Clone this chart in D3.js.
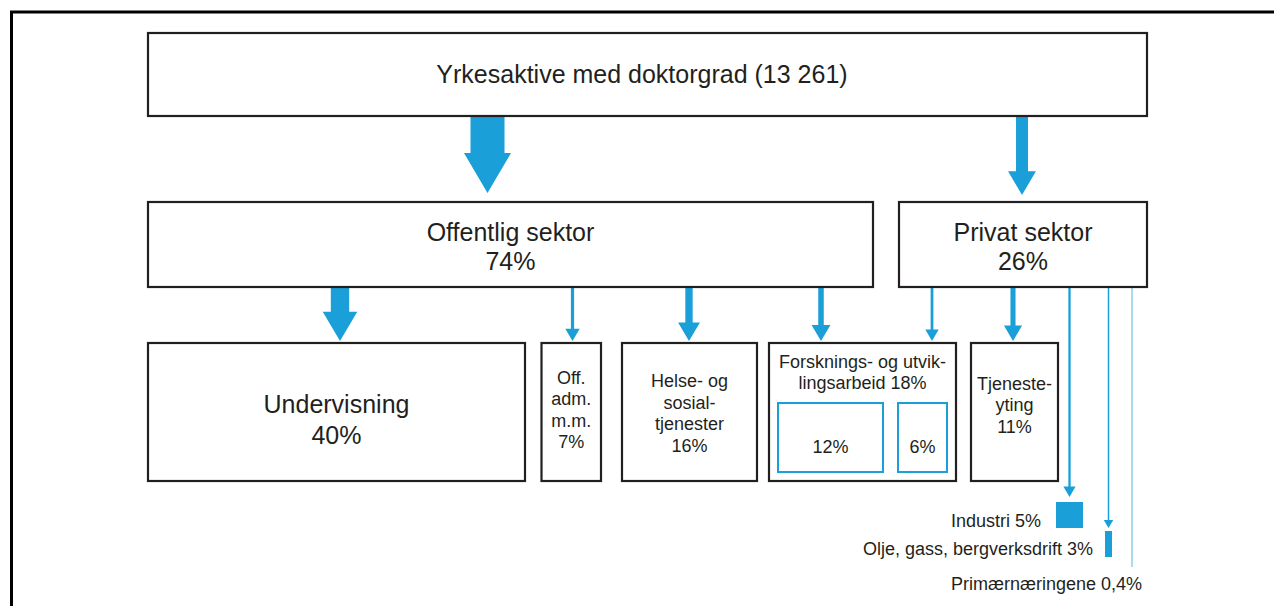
<!DOCTYPE html>
<html>
<head>
<meta charset="utf-8">
<script src="https://cdn.jsdelivr.net/npm/d3@7"></script>
<style>
  body { margin: 0; background: #fff; }
  text { font-family: "Liberation Sans", Arial, Helvetica, sans-serif; fill: #231f20; }
</style>
</head>
<body>
<script>
// ---- data ----
var totalLabel = "Yrkesaktive med doktorgrad (13 261)";
var sectors = ["Offentlig sektor", "Privat sektor"];
var sectorShares = [74, 26];

// third level boxes, text lines as they wrap in the original
var branches = ["Undervisning", "Off. adm. m.m.", "Helse- og sosialtjenester", "Forsknings- og utviklingsarbeid", "Tjenesteyting"];
var branchShares = [40, 7, 16, 18, 11];
var branchLines = [
    ["Undervisning", "40%"],
    ["Off.", "adm.", "m.m.", "7%"],
    ["Helse- og", "sosial-", "tjenester", "16%"],
    ["Forsknings- og utvik-", "lingsarbeid 18%"],
    ["Tjeneste-", "yting", "11%"]
];
// FoU split into public / private part
var fouParts = ["12%", "6%"];
var fouShares = [12, 6];

// small private branches drawn outside boxes
var smallBranches = ["Industri 5%", "Olje, gass, bergverksdrift 3%", "Primærnæringene 0,4%"];
var smallShares = [5, 3, 0.4];

// ---- setup ----
var width = 1274, height = 606;
var blue = "#1a9fd9", ink = "#231f20";

let svg = d3.select("body").append("svg")
    .attr("width", width)
    .attr("height", height);

// arrow thickness follows the share it carries
let shaft = d3.scaleLinear().domain([0, 74]).range([0, 34]);
let head = d3.scaleSqrt().domain([0, 74]).range([0, 47]);

// outer frame (only left and top edges visible)
svg.append("path")
    .attr("d", "M11.5," + height + " V12 H" + width)
    .attr("fill", "none")
    .attr("stroke", "#000")
    .attr("stroke-width", 3);

// draws a block arrow pointing down, centre x, from y0 to tip y1
function arrow(x, y0, y1, v) {
    let sw = Math.max(1.5, shaft(v)), hw = Math.max(9, head(v)), hh = Math.max(6, hw * 0.85);
    let yh = y1 - hh;
    svg.append("path")
        .attr("d", "M" + (x - sw / 2) + "," + y0 + " V" + yh + " H" + (x - hw / 2) +
            " L" + x + "," + y1 + " L" + (x + hw / 2) + "," + yh + " H" + (x + sw / 2) + " V" + y0 + " Z")
        .attr("fill", blue);
}

function box(x, y, w, h, col, sw) {
    svg.append("rect")
        .attr("x", x).attr("y", y)
        .attr("width", w).attr("height", h)
        .attr("fill", "#fff")
        .attr("stroke", col || ink)
        .attr("stroke-width", sw || 2.2);
}

function lines(x, y, arr, size, step) {
    let t = svg.append("text")
        .attr("text-anchor", "middle")
        .attr("font-size", size + "px");
    arr.forEach(function (s, i) {
        t.append("tspan").attr("x", x).attr("y", y + i * step).text(s);
    });
}

// ---- arrows (drawn first so boxes sit on top) ----
arrow(487.5, 116, 193, sectorShares[0]);
arrow(1022, 116, 195, sectorShares[1]);

var pubArrowX = [340, 572.5, 689, 821];
branchShares.slice(0, 3).forEach(function (v, i) { arrow(pubArrowX[i], 287, 341, v); });
arrow(pubArrowX[3], 287, 341, fouShares[0]);
arrow(932, 287, 341, fouShares[1]);
arrow(1013, 287, 341, branchShares[4]);
arrow(1069.5, 287, 497, smallShares[0]);
arrow(1108.5, 287, 528, smallShares[1]);

// primærnæringene is only a thin light line
svg.append("line")
    .attr("x1", 1132).attr("x2", 1132)
    .attr("y1", 287).attr("y2", 567)
    .attr("stroke", "#7cc7ec")
    .attr("stroke-width", 1.3);

// ---- boxes ----
box(148, 33, 999, 83);
lines(642, 83, [totalLabel], 25, 0);

box(148, 202, 725, 85);
lines(510.5, 241, [sectors[0], sectorShares[0] + "%"], 25, 29);
box(899, 202, 248, 85);
lines(1023, 241, [sectors[1], sectorShares[1] + "%"], 25, 29);

var bx = [148, 541.5, 622, 769, 971];
var bw = [377, 59.5, 135, 187, 87];
var textTop = [413, 383.5, 387, 367.5, 389.5];
branches.forEach(function (d, i) {
    box(bx[i], 343, bw[i], 138);
    let big = i === 0;
    lines(bx[i] + bw[i] / 2, textTop[i], branchLines[i], big ? 25 : 18, big ? 31 : 21.5);
});

// FoU inner boxes
var ix = [778, 898], iw = [105, 49];
fouParts.forEach(function (d, i) {
    box(ix[i], 403, iw[i], 69, blue, 2);
    lines(ix[i] + iw[i] / 2, 453, [d], 18, 0);
});

// ---- small private branches ----
svg.append("rect").attr("x", 1056).attr("y", 502).attr("width", 27).attr("height", 26).attr("fill", blue);
svg.append("rect").attr("x", 1105).attr("y", 531).attr("width", 7).attr("height", 26).attr("fill", blue);

var smallX = [1041, 1093, 1142], smallY = [527, 555, 590];
smallBranches.forEach(function (d, i) {
    svg.append("text")
        .attr("x", smallX[i]).attr("y", smallY[i])
        .attr("text-anchor", "end")
        .attr("font-size", "18px")
        .text(d);
});
</script>
</body>
</html>
